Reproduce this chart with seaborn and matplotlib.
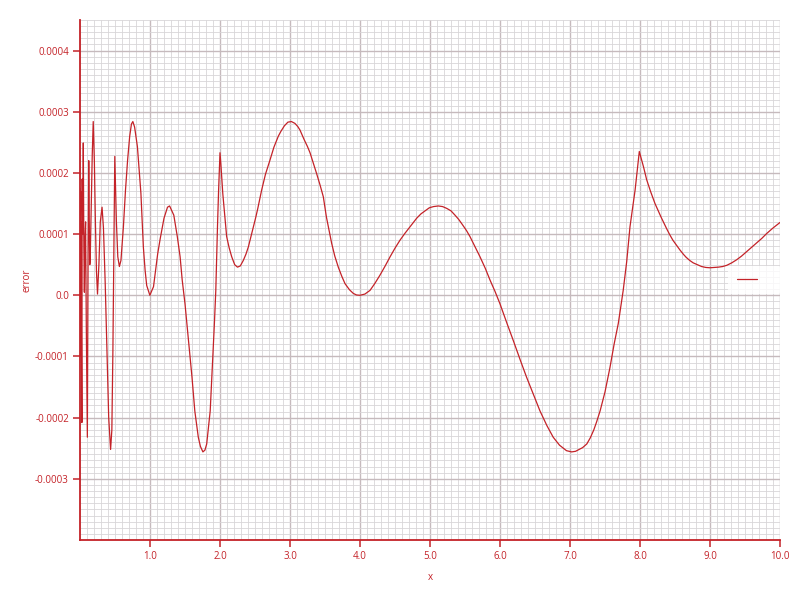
"""
Error curve plot - recreated with seaborn
"""

import numpy as np
import pandas as pd
import matplotlib
matplotlib.use("Agg")
import matplotlib.pyplot as plt
from matplotlib.ticker import MultipleLocator
import seaborn as sns

# Data (y values in units of 1e-4)
ERR_X = [
    0.0, 0.004, 0.008, 0.012, 0.016, 0.02, 0.027, 0.031, 0.04, 0.047,
    0.055, 0.0625, 0.07, 0.08, 0.09, 0.105, 0.115,
    0.125, 0.135, 0.14, 0.146, 0.16, 0.175, 0.189, 0.205, 0.22, 0.235,
    0.25, 0.27, 0.29, 0.315, 0.335, 0.36, 0.385, 0.41, 0.437, 0.455,
    0.47, 0.48, 0.49, 0.497,
    0.52, 0.54, 0.5625, 0.585, 0.62, 0.65, 0.68, 0.71, 0.735, 0.755,
    0.78, 0.82, 0.845, 0.87, 0.887, 0.905, 0.93, 0.953, 0.998, 1.05,
    1.11, 1.145, 1.2, 1.25, 1.28, 1.34, 1.39, 1.43, 1.46, 1.5,
    1.55, 1.6, 1.64, 1.69, 1.72, 1.756, 1.785, 1.81, 1.86, 1.89,
    1.92, 1.94, 1.964, 1.98,
    2.0, 2.012, 2.024, 2.04, 2.06, 2.08, 2.095, 2.13, 2.167, 2.21,
    2.25, 2.29, 2.333, 2.37, 2.405, 2.44, 2.476, 2.51, 2.54, 2.595,
    2.65, 2.714, 2.77, 2.833, 2.87, 2.92, 2.97, 3.02, 3.07, 3.11,
    3.143, 3.2, 3.25, 3.286, 3.33, 3.38, 3.43, 3.476, 3.52, 3.56,
    3.595, 3.64, 3.69, 3.74, 3.786, 3.85, 3.905, 3.95, 4.0, 4.07,
    4.143, 4.21, 4.286, 4.36, 4.43, 4.5, 4.571, 4.64, 4.714, 4.81,
    4.87, 4.93, 4.99, 5.05, 5.119, 5.18, 5.24, 5.30, 5.357, 5.41,
    5.46, 5.52, 5.571, 5.64, 5.714, 5.79, 5.857, 5.93, 6.0, 6.1,
    6.19, 6.29, 6.38, 6.48, 6.571, 6.67, 6.76, 6.85, 6.95, 7.024,
    7.08, 7.18, 7.24, 7.29, 7.34, 7.38, 7.43, 7.5, 7.571, 7.63,
    7.69, 7.76, 7.81, 7.857, 7.93, 7.99, 8.05, 8.095, 8.15, 8.214,
    8.26, 8.3, 8.38, 8.42, 8.47, 8.52, 8.571, 8.62, 8.66, 8.71,
    8.76, 8.82, 8.88, 8.94, 9.0, 9.06, 9.12, 9.18, 9.24, 9.31,
    9.38, 9.45, 9.52, 9.59, 9.66, 9.74, 9.81, 9.9, 10.0,
]
ERR_Y_E4 = [
    1.75, -1.0, 1.7, 0.5, 1.2, -0.6, -2.08, 1.9, 1.0, 2.49,
    0.8, 0.05, 0.9, 1.2, -0.5, -2.32, 0.5,
    2.2, 0.9, 0.5, 0.6, 1.4, 2.3, 2.84, 2.2, 1.2, 0.4,
    0.02, 0.5, 1.2, 1.44, 1.1, 0.2, -0.9, -2.0, -2.52, -2.2,
    -0.9, 0.3, 1.4, 2.27,
    1.2, 0.63, 0.47, 0.57, 1.12, 1.72, 2.21, 2.60, 2.80, 2.84,
    2.75, 2.43, 2.05, 1.67, 1.23, 0.79, 0.41, 0.16, 0.0, 0.14,
    0.68, 0.92, 1.26, 1.44, 1.46, 1.31, 0.96, 0.63, 0.25, -0.14,
    -0.74, -1.34, -1.89, -2.32, -2.47, -2.56, -2.53, -2.43, -1.89, -1.18,
    -0.46, 0.08, 1.12, 1.72,
    2.33, 2.15, 1.94, 1.66, 1.40, 1.14, 0.96, 0.78, 0.63, 0.50,
    0.46, 0.48, 0.57, 0.67, 0.79, 0.95, 1.12, 1.27, 1.42, 1.72,
    1.98, 2.21, 2.42, 2.60, 2.68, 2.77, 2.83, 2.84, 2.81, 2.76,
    2.70, 2.55, 2.43, 2.33, 2.17, 1.99, 1.80, 1.61, 1.28, 1.05,
    0.85, 0.64, 0.46, 0.31, 0.19, 0.09, 0.03, 0.005, 0.0, 0.02,
    0.08, 0.19, 0.33, 0.48, 0.63, 0.77, 0.90, 1.01, 1.12, 1.26,
    1.33, 1.38, 1.43, 1.45, 1.46, 1.45, 1.42, 1.38, 1.31, 1.24,
    1.16, 1.06, 0.96, 0.80, 0.63, 0.44, 0.25, 0.06, -0.14, -0.46,
    -0.74, -1.06, -1.34, -1.63, -1.89, -2.13, -2.32, -2.45, -2.54, -2.56,
    -2.55, -2.49, -2.43, -2.33, -2.20, -2.07, -1.89, -1.58, -1.18, -0.80,
    -0.46, 0.08, 0.55, 1.12, 1.72, 2.35, 2.10, 1.89, 1.70, 1.50,
    1.38, 1.28, 1.09, 1.00, 0.90, 0.82, 0.74, 0.67, 0.62, 0.57,
    0.53, 0.50, 0.47, 0.455, 0.45, 0.455, 0.46, 0.47, 0.49, 0.53,
    0.58, 0.64, 0.71, 0.78, 0.85, 0.93, 1.01, 1.10, 1.19,
]

X_TICKS = [1.0, 2.0, 3.0, 4.0, 5.0, 6.0, 7.0, 8.0, 9.0, 10.0]
X_TICK_LABELS = ["1.0", "2.0", "3.0", "4.0", "5.0", "6.0", "7.0", "8.0", "9.0", "10.0"]
Y_TICKS = [-0.0003, -0.0002, -0.0001, 0.0, 0.0001, 0.0002, 0.0003, 0.0004]
Y_TICK_LABELS = ["-0.0003", "-0.0002", "-0.0001", "0.0",
                 "0.0001", "0.0002", "0.0003", "0.0004"]

RED = "#c42228"

sns.set_theme(style="white")
plt.rcParams["font.family"] = ["Open Sans", "DejaVu Sans"]

df = pd.DataFrame({"x": ERR_X, "error": np.array(ERR_Y_E4) * 1e-4})

fig = plt.figure(figsize=(8, 6), dpi=100)
ax = fig.add_axes([0.1, 0.1, 0.875, 0.8667])

sns.lineplot(data=df, x="x", y="error", ax=ax, color=RED, linewidth=0.9,
             estimator=None, sort=False, label="  ")

ax.set_xlim(0, 10)
ax.set_ylim(-0.0004, 0.00045)
ax.set_xticks(X_TICKS)
ax.set_xticklabels(X_TICK_LABELS)
ax.set_yticks(Y_TICKS)
ax.set_yticklabels(Y_TICK_LABELS)
ax.xaxis.set_minor_locator(MultipleLocator(0.1))
ax.yaxis.set_minor_locator(MultipleLocator(0.00001))

# Grid
ax.grid(which="minor", color="#d8d6d8", linewidth=0.6)
ax.grid(which="major", color="#c6babd", linewidth=1.0)
ax.set_axisbelow(True)

# Spines and ticks
for side in ["top", "right"]:
    ax.spines[side].set_visible(False)
for side in ["left", "bottom"]:
    ax.spines[side].set_color(RED)
    ax.spines[side].set_linewidth(1.3)
ax.tick_params(which="major", direction="out", length=5, width=1.1,
               color=RED, labelcolor=RED, labelsize=7, pad=3,
               bottom=True, left=True)
ax.tick_params(which="minor", length=0)

ax.set_xlabel("x", color=RED, fontsize=7, labelpad=7)
ax.set_ylabel("error", color=RED, fontsize=7, labelpad=2)

leg = ax.legend(loc="center right", fontsize=7, frameon=True, framealpha=0.8,
                edgecolor="none", facecolor="white", handlelength=2.0,
                handletextpad=1.0, borderpad=0.9,
                borderaxespad=0.0, bbox_to_anchor=(1.0, 0.5))

fig.savefig("out.png", dpi=100)
plt.close(fig)
